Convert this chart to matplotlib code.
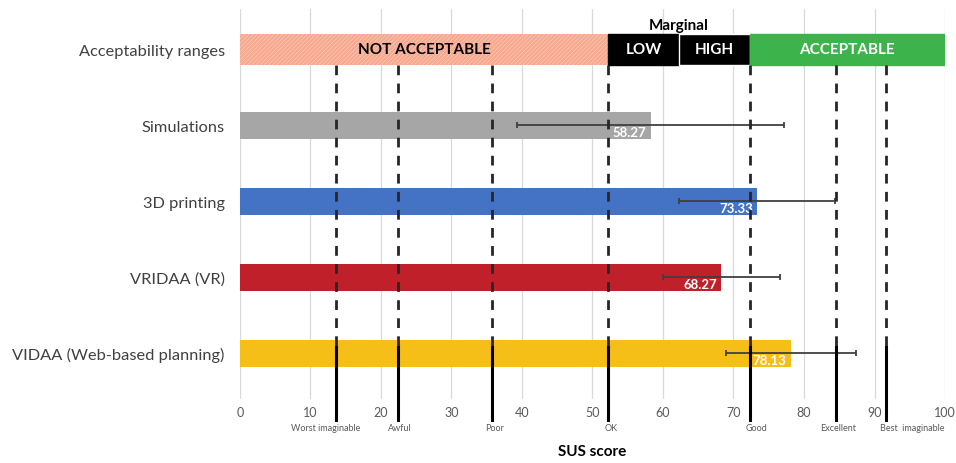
import numpy as np
import matplotlib.pyplot as plt
from matplotlib.patches import Rectangle

plt.rcParams['font.family'] = ['Lato', 'DejaVu Sans']
plt.rcParams['hatch.linewidth'] = 0.5

# data
rows = ["Acceptability ranges", "Simulations", "3D printing", "VRIDAA (VR)",
        "VIDAA (Web-based planning)"]
groups = ["Simulations", "3D printing", "VRIDAA (VR)", "VIDAA (Web-based planning)"]
sus_mean = [58.27, 73.33, 68.27, 78.13]
sus_err = [18.95, 11.1, 8.3, 9.2]
bar_colors = ["#a6a6a6", "#4472c4", "#c0202a", "#f6be19"]

adjectives = ["Worst imaginable", "Awful", "Poor", "OK", "Good", "Excellent",
              "Best  imaginable"]
adjective_scores = [13.6, 22.4, 35.7, 52.2, 72.3, 84.6, 91.6]
adjective_label_shift = [-1.4, 0.3, 0.4, 0.5, 1.0, 0.3, 3.7]

range_names = ["NOT ACCEPTABLE", "LOW", "HIGH", "ACCEPTABLE"]
range_edges = [0, 52.2, 62.3, 72.3, 100]
range_colors = ["#f6a98f", "black", "black", "#3cb44b"]
range_text_colors = ["black", "white", "white", "white"]

fig = plt.figure(figsize=(9.56, 4.64), dpi=100)
ax = fig.add_axes([0.251, 0.138, 0.7375, 0.84])

ypos = np.arange(len(rows))[::-1]  # top row highest
ax.set_xlim(0, 100)
ax.set_ylim(-0.6, 4.53)

# gridlines
for gx in range(0, 101, 10):
    ax.axvline(gx, color="#d9d9d9", lw=0.9, zorder=0)

# acceptability band
band_y = ypos[0]
bh = 0.41
for i, name in enumerate(range_names):
    x0, x1 = range_edges[i], range_edges[i + 1]
    if i == 0:
        r = Rectangle((x0, band_y - bh / 2), x1 - x0, bh, facecolor=range_colors[i],
                      edgecolor="#fccbb9", hatch="////////", lw=0, zorder=2)
    else:
        r = Rectangle((x0, band_y - bh / 2), x1 - x0, bh, facecolor=range_colors[i],
                      edgecolor="white" if i == 2 else range_colors[i], lw=1.0, zorder=2)
    ax.add_patch(r)
    ax.text((x0 + x1) / 2, band_y, name, ha="center", va="center",
            color=range_text_colors[i], fontsize=11, fontweight="bold", zorder=3)
ax.text((range_edges[1] + range_edges[3]) / 2, band_y + bh / 2 + 0.02, "Marginal",
        ha="center", va="bottom", fontsize=11, fontweight="bold", zorder=3)

# bars
bar_y = ypos[1:]
ax.barh(bar_y, sus_mean, height=0.36, color=bar_colors, zorder=2)
ax.errorbar(sus_mean, bar_y, xerr=sus_err, fmt="none", ecolor="#404040",
            elinewidth=1.3, capsize=2.5, capthick=1.3, zorder=5)
for m, y in zip(sus_mean, bar_y):
    ax.text(m - 0.6, y - 0.09, f"{m:.2f}", ha="right", va="center", color="white",
            fontsize=9.5, fontweight="bold", zorder=4)

# adjective lines
top_dash = band_y - bh / 2
solid_start = bar_y[-1] + 0.08
for s in adjective_scores:
    ax.plot([s, s], [top_dash, solid_start], color="#262626", lw=2.0,
            dashes=(3.5, 3), zorder=6)
    ax.plot([s, s], [solid_start, -0.88], color="black", lw=2.2, zorder=6,
            clip_on=False)
for lab, s, d in zip(adjectives, adjective_scores, adjective_label_shift):
    ax.text(s + d, -0.98, lab, ha="center", va="center", fontsize=6.5,
            color="#595959", clip_on=False)

ax.set_yticks(ypos)
ax.set_yticklabels(rows, fontsize=11.8, color="#404040")
ax.set_xticks(range(0, 101, 10))
ax.tick_params(axis="x", labelsize=9, labelcolor="#595959", length=0, pad=5)
ax.tick_params(axis="y", length=0, pad=11)
for sp in ax.spines.values():
    sp.set_visible(False)
ax.set_xlabel("SUS score", fontsize=11, fontweight="bold", labelpad=19)

fig.savefig("out.png", dpi=100)
